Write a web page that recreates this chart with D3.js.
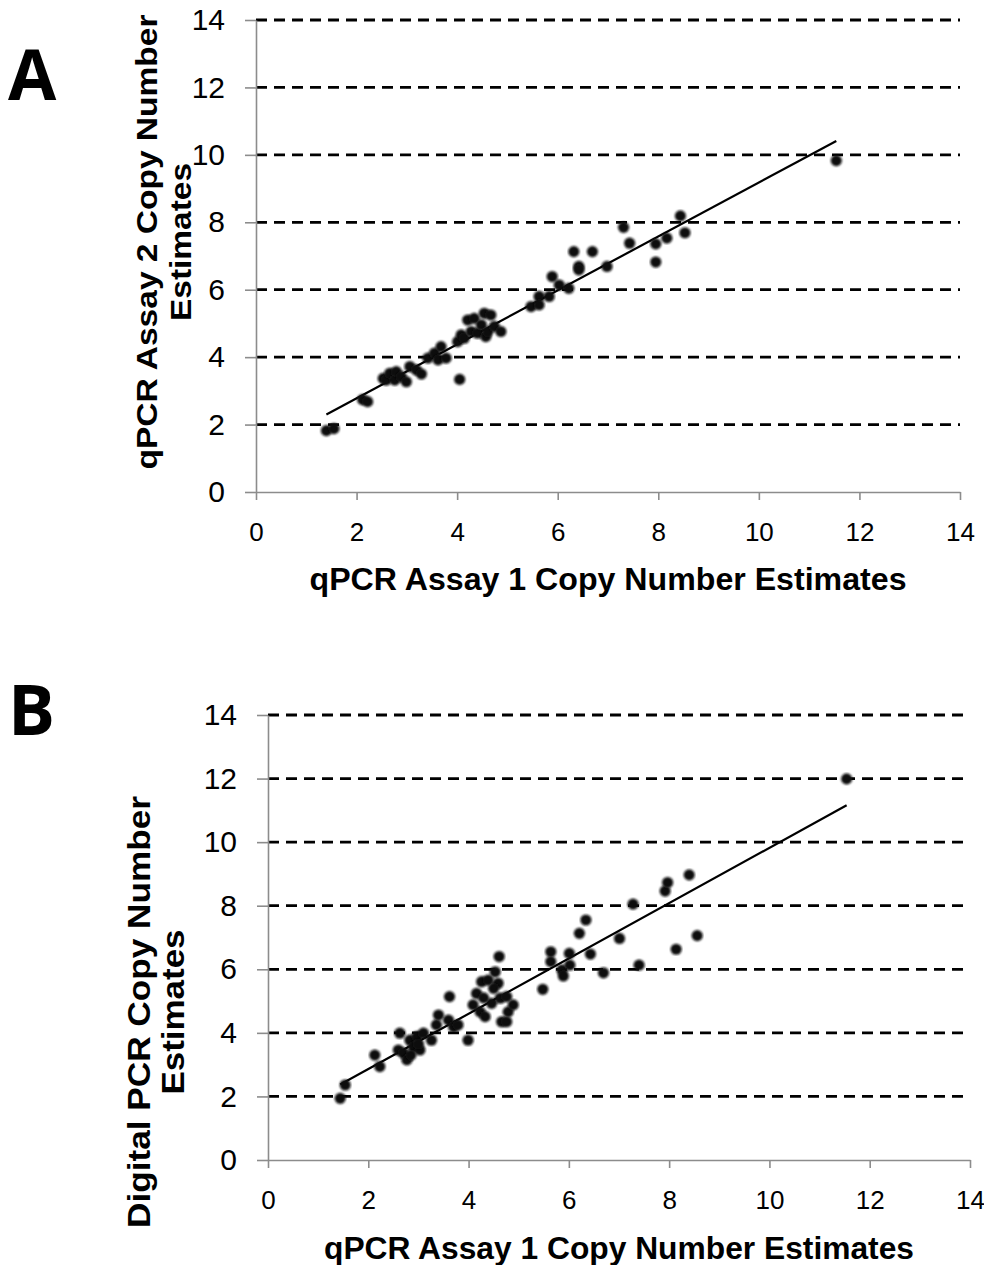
<!DOCTYPE html>
<html>
<head>
<meta charset="utf-8">
<script src="https://cdn.jsdelivr.net/npm/d3@7"></script>
<style>
  body { margin: 0; background: #fff; }
  svg { display: block; }
</style>
</head>
<body>
<div id="chart"></div>
<script>
// axis ticks shared by both panels
const tickValues = [0, 2, 4, 6, 8, 10, 12, 14];

// panel A: qPCR assay 1 (x) vs qPCR assay 2 (y)
const assay1A = [1.40, 1.55, 2.12, 2.22, 2.53, 2.59, 2.66, 2.76, 2.79, 2.89, 2.99, 3.06, 3.19, 3.29,
  3.42, 3.55, 3.62, 3.68, 3.78, 4.05, 4.01, 4.08, 4.14, 4.21, 4.28, 4.34, 4.41, 4.48, 4.54, 4.57,
  4.61, 4.67, 4.74, 4.87, 5.47, 5.63, 5.63, 5.83, 5.89, 6.03, 6.22, 6.32, 6.42, 6.42, 6.69, 6.98,
  7.31, 7.43, 7.95, 7.95, 8.17, 8.44, 8.53, 11.54];
const assay2A = [1.82, 1.88, 2.74, 2.68, 3.37, 3.32, 3.52, 3.32, 3.57, 3.42, 3.27, 3.72, 3.62, 3.50,
  3.97, 4.12, 3.92, 4.31, 3.97, 3.34, 4.46, 4.66, 4.56, 5.10, 4.76, 5.15, 4.71, 4.96, 5.30, 4.61,
  4.76, 5.25, 4.91, 4.76, 5.50, 5.80, 5.55, 5.80, 6.39, 6.14, 6.04, 7.13, 6.69, 6.59, 7.13, 6.69,
  7.85, 7.38, 7.36, 6.82, 7.53, 8.19, 7.69, 9.83];
const trendA = [0.80, 1.18]; // slope, intercept

// panel B: qPCR assay 1 (x) vs digital PCR (y)
const assay1B = [1.44, 1.54, 2.13, 2.23, 2.60, 2.63, 2.70, 2.77, 2.83, 2.90, 2.97, 3.03, 3.10, 3.26,
  2.85, 3.00, 3.36, 3.40, 3.60, 3.62, 3.70, 3.79, 3.99, 4.09, 4.16, 4.23, 4.26, 4.33, 4.39, 4.46,
  4.53, 4.59, 4.61, 4.63, 4.66, 4.76, 4.79, 4.76, 4.89, 4.50, 4.30, 5.48, 5.64, 5.64, 5.86, 5.89,
  6.01, 6.02, 6.21, 6.34, 6.43, 6.69, 7.01, 7.28, 7.40, 7.92, 7.97, 8.14, 8.40, 8.56, 11.54];
const digitalB = [1.94, 2.36, 3.30, 2.94, 3.46, 3.99, 3.36, 3.15, 3.77, 3.56, 3.88, 3.46, 3.99, 3.77,
  3.30, 3.65, 4.25, 4.56, 4.40, 5.14, 4.19, 4.25, 3.77, 4.88, 5.24, 4.66, 5.61, 4.51, 5.66, 4.93,
  5.92, 5.56, 6.40, 5.09, 4.35, 4.35, 4.66, 5.14, 4.88, 5.40, 5.10, 5.37, 6.55, 6.24, 5.98, 5.79,
  6.50, 6.13, 7.13, 7.55, 6.48, 5.89, 6.97, 8.05, 6.13, 8.46, 8.73, 6.63, 8.97, 7.06, 11.99];
const trendB = [0.87, 1.12];

const xTitle = "qPCR Assay 1 Copy Number Estimates";
const font = "'Liberation Sans', Arial, sans-serif";

const svg = d3.select("#chart").append("svg")
  .attr("width", 984)
  .attr("height", 1265)
  .attr("font-family", font);

// soft edge on the dots, like the scanned figure
svg.append("defs").append("filter")
  .attr("id", "soft")
  .append("feGaussianBlur")
  .attr("stdDeviation", 0.8);

function drawPanel(p) {
  let x = d3.scaleLinear().domain([0, 14]).range(p.xRange);
  let y = d3.scaleLinear().domain([0, 14]).range(p.yRange);
  let g = svg.append("g");

  // dashed gridlines
  g.selectAll(".grid")
    .data(tickValues.filter(d => d > 0))
    .enter().append("line")
    .attr("x1", x(0)).attr("x2", x(14))
    .attr("y1", d => y(d)).attr("y2", d => y(d))
    .attr("stroke", "#000")
    .attr("stroke-width", 2.8)
    .attr("stroke-dasharray", "11,7");

  // axes
  let yAxis = g.append("g")
    .attr("transform", "translate(" + x(0) + ",0)")
    .call(d3.axisLeft(y).tickValues(tickValues).tickSize(11).tickSizeOuter(0).tickPadding(20));
  let xAxis = g.append("g")
    .attr("transform", "translate(0," + y(0) + ")")
    .call(d3.axisBottom(x).tickValues(tickValues).tickSize(8).tickSizeOuter(0).tickPadding(23));

  [yAxis, xAxis].forEach(a => {
    a.attr("font-family", font);
    a.select(".domain").attr("stroke", "#8c8c8c").attr("stroke-width", 1.6);
    a.selectAll(".tick line").attr("stroke", "#8c8c8c").attr("stroke-width", 1.6);
    a.selectAll("text").attr("fill", "#000");
  });
  yAxis.attr("font-size", 30);
  xAxis.attr("font-size", 26);

  // trendline over the range of x values
  let ext = d3.extent(p.xs);
  g.append("line")
    .attr("x1", x(ext[0])).attr("y1", y(p.trend[0] * ext[0] + p.trend[1]))
    .attr("x2", x(ext[1])).attr("y2", y(p.trend[0] * ext[1] + p.trend[1]))
    .attr("stroke", "#000")
    .attr("stroke-width", 2.2);

  // points
  g.selectAll(".dot")
    .data(p.xs.map((d, i) => [d, p.ys[i]]))
    .enter().append("circle")
    .attr("cx", d => x(d[0]))
    .attr("cy", d => y(d[1]))
    .attr("r", 5.6)
    .attr("fill", "#111")
    .attr("filter", "url(#soft)");

  // x axis title
  g.append("text")
    .attr("x", (p.xRange[0] + p.xRange[1]) / 2)
    .attr("y", p.xTitleY)
    .attr("text-anchor", "middle")
    .attr("textLength", p.xTitleLen)
    .attr("lengthAdjust", "spacingAndGlyphs")
    .attr("font-weight", "bold")
    .attr("font-size", 31)
    .text(xTitle);

  // y axis title, two lines
  p.yTitle.forEach((t, i) => {
    g.append("text")
      .attr("transform", "translate(" + p.yTitleX[i] + "," + p.yTitleMid + ") rotate(-90)")
      .attr("text-anchor", "middle")
      .attr("textLength", p.yTitleLen[i])
      .attr("lengthAdjust", "spacingAndGlyphs")
      .attr("font-weight", "bold")
      .attr("font-size", p.yTitleSize)
      .text(t);
  });

  // panel letter
  g.append("text")
    .attr("x", 8)
    .attr("y", p.letterY)
    .attr("font-family", "'Open Sans', sans-serif")
    .attr("font-weight", "bold")
    .attr("font-size", 70)
    .text(p.letter);
}

drawPanel({
  letter: "A", letterY: 100,
  xRange: [256, 960], yRange: [492, 20],
  xs: assay1A, ys: assay2A, trend: trendA,
  xTitleY: 590, xTitleLen: 597,
  yTitle: ["qPCR Assay 2 Copy Number", "Estimates"],
  yTitleX: [157, 191], yTitleMid: 242, yTitleLen: [455, 158], yTitleSize: 30
});

drawPanel({
  letter: "B", letterY: 735,
  xRange: [268, 970], yRange: [1160, 715],
  xs: assay1B, ys: digitalB, trend: trendB,
  xTitleY: 1259, xTitleLen: 590,
  yTitle: ["Digital PCR Copy Number", "Estimates"],
  yTitleX: [150, 184], yTitleMid: 1012, yTitleLen: [432, 165], yTitleSize: 31
});
</script>
</body>
</html>
